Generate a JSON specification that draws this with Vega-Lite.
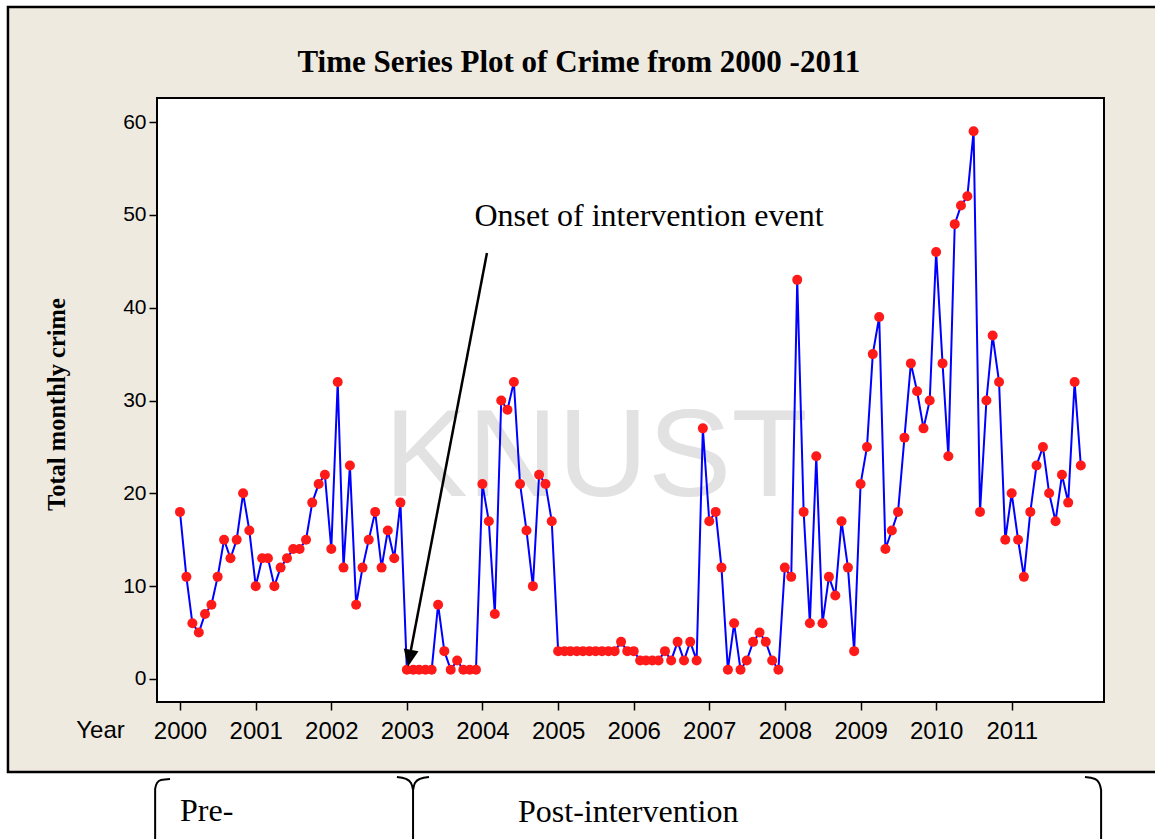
{
  "$schema": "https://vega.github.io/schema/vega-lite/v6.json",
  "width": 947,
  "height": 604,
  "autosize": {"type": "none"},
  "padding": {"left": 157, "top": 98, "right": 51, "bottom": 137},
  "background": "white",
  "config": {"view": {"stroke": null}},
  "datasets": {
    "crime": [
      {"month": "2000-01-01", "crime": 18}, {"month": "2000-02-01", "crime": 11}, {"month": "2000-03-01", "crime": 6}, {"month": "2000-04-01", "crime": 5}, {"month": "2000-05-01", "crime": 7}, {"month": "2000-06-01", "crime": 8}, {"month": "2000-07-01", "crime": 11}, {"month": "2000-08-01", "crime": 15}, {"month": "2000-09-01", "crime": 13}, {"month": "2000-10-01", "crime": 15}, {"month": "2000-11-01", "crime": 20}, {"month": "2000-12-01", "crime": 16},
      {"month": "2001-01-01", "crime": 10}, {"month": "2001-02-01", "crime": 13}, {"month": "2001-03-01", "crime": 13}, {"month": "2001-04-01", "crime": 10}, {"month": "2001-05-01", "crime": 12}, {"month": "2001-06-01", "crime": 13}, {"month": "2001-07-01", "crime": 14}, {"month": "2001-08-01", "crime": 14}, {"month": "2001-09-01", "crime": 15}, {"month": "2001-10-01", "crime": 19}, {"month": "2001-11-01", "crime": 21}, {"month": "2001-12-01", "crime": 22},
      {"month": "2002-01-01", "crime": 14}, {"month": "2002-02-01", "crime": 32}, {"month": "2002-03-01", "crime": 12}, {"month": "2002-04-01", "crime": 23}, {"month": "2002-05-01", "crime": 8}, {"month": "2002-06-01", "crime": 12}, {"month": "2002-07-01", "crime": 15}, {"month": "2002-08-01", "crime": 18}, {"month": "2002-09-01", "crime": 12}, {"month": "2002-10-01", "crime": 16}, {"month": "2002-11-01", "crime": 13}, {"month": "2002-12-01", "crime": 19},
      {"month": "2003-01-01", "crime": 1}, {"month": "2003-02-01", "crime": 1}, {"month": "2003-03-01", "crime": 1}, {"month": "2003-04-01", "crime": 1}, {"month": "2003-05-01", "crime": 1}, {"month": "2003-06-01", "crime": 8}, {"month": "2003-07-01", "crime": 3}, {"month": "2003-08-01", "crime": 1}, {"month": "2003-09-01", "crime": 2}, {"month": "2003-10-01", "crime": 1}, {"month": "2003-11-01", "crime": 1}, {"month": "2003-12-01", "crime": 1},
      {"month": "2004-01-01", "crime": 21}, {"month": "2004-02-01", "crime": 17}, {"month": "2004-03-01", "crime": 7}, {"month": "2004-04-01", "crime": 30}, {"month": "2004-05-01", "crime": 29}, {"month": "2004-06-01", "crime": 32}, {"month": "2004-07-01", "crime": 21}, {"month": "2004-08-01", "crime": 16}, {"month": "2004-09-01", "crime": 10}, {"month": "2004-10-01", "crime": 22}, {"month": "2004-11-01", "crime": 21}, {"month": "2004-12-01", "crime": 17},
      {"month": "2005-01-01", "crime": 3}, {"month": "2005-02-01", "crime": 3}, {"month": "2005-03-01", "crime": 3}, {"month": "2005-04-01", "crime": 3}, {"month": "2005-05-01", "crime": 3}, {"month": "2005-06-01", "crime": 3}, {"month": "2005-07-01", "crime": 3}, {"month": "2005-08-01", "crime": 3}, {"month": "2005-09-01", "crime": 3}, {"month": "2005-10-01", "crime": 3}, {"month": "2005-11-01", "crime": 4}, {"month": "2005-12-01", "crime": 3},
      {"month": "2006-01-01", "crime": 3}, {"month": "2006-02-01", "crime": 2}, {"month": "2006-03-01", "crime": 2}, {"month": "2006-04-01", "crime": 2}, {"month": "2006-05-01", "crime": 2}, {"month": "2006-06-01", "crime": 3}, {"month": "2006-07-01", "crime": 2}, {"month": "2006-08-01", "crime": 4}, {"month": "2006-09-01", "crime": 2}, {"month": "2006-10-01", "crime": 4}, {"month": "2006-11-01", "crime": 2}, {"month": "2006-12-01", "crime": 27},
      {"month": "2007-01-01", "crime": 17}, {"month": "2007-02-01", "crime": 18}, {"month": "2007-03-01", "crime": 12}, {"month": "2007-04-01", "crime": 1}, {"month": "2007-05-01", "crime": 6}, {"month": "2007-06-01", "crime": 1}, {"month": "2007-07-01", "crime": 2}, {"month": "2007-08-01", "crime": 4}, {"month": "2007-09-01", "crime": 5}, {"month": "2007-10-01", "crime": 4}, {"month": "2007-11-01", "crime": 2}, {"month": "2007-12-01", "crime": 1},
      {"month": "2008-01-01", "crime": 12}, {"month": "2008-02-01", "crime": 11}, {"month": "2008-03-01", "crime": 43}, {"month": "2008-04-01", "crime": 18}, {"month": "2008-05-01", "crime": 6}, {"month": "2008-06-01", "crime": 24}, {"month": "2008-07-01", "crime": 6}, {"month": "2008-08-01", "crime": 11}, {"month": "2008-09-01", "crime": 9}, {"month": "2008-10-01", "crime": 17}, {"month": "2008-11-01", "crime": 12}, {"month": "2008-12-01", "crime": 3},
      {"month": "2009-01-01", "crime": 21}, {"month": "2009-02-01", "crime": 25}, {"month": "2009-03-01", "crime": 35}, {"month": "2009-04-01", "crime": 39}, {"month": "2009-05-01", "crime": 14}, {"month": "2009-06-01", "crime": 16}, {"month": "2009-07-01", "crime": 18}, {"month": "2009-08-01", "crime": 26}, {"month": "2009-09-01", "crime": 34}, {"month": "2009-10-01", "crime": 31}, {"month": "2009-11-01", "crime": 27}, {"month": "2009-12-01", "crime": 30},
      {"month": "2010-01-01", "crime": 46}, {"month": "2010-02-01", "crime": 34}, {"month": "2010-03-01", "crime": 24}, {"month": "2010-04-01", "crime": 49}, {"month": "2010-05-01", "crime": 51}, {"month": "2010-06-01", "crime": 52}, {"month": "2010-07-01", "crime": 59}, {"month": "2010-08-01", "crime": 18}, {"month": "2010-09-01", "crime": 30}, {"month": "2010-10-01", "crime": 37}, {"month": "2010-11-01", "crime": 32}, {"month": "2010-12-01", "crime": 15},
      {"month": "2011-01-01", "crime": 20}, {"month": "2011-02-01", "crime": 15}, {"month": "2011-03-01", "crime": 11}, {"month": "2011-04-01", "crime": 18}, {"month": "2011-05-01", "crime": 23}, {"month": "2011-06-01", "crime": 25}, {"month": "2011-07-01", "crime": 20}, {"month": "2011-08-01", "crime": 17}, {"month": "2011-09-01", "crime": 22}, {"month": "2011-10-01", "crime": 19}, {"month": "2011-11-01", "crime": 32}, {"month": "2011-12-01", "crime": 23}
    ],
    "braces": [
      {"brace": "left", "o": 1, "t": "1999-11-14", "v": -10.77},
      {"brace": "left", "o": 2, "t": "1999-10-01", "v": -10.88},
      {"brace": "left", "o": 3, "t": "1999-09-12", "v": -11.2},
      {"brace": "left", "o": 4, "t": "1999-09-03", "v": -11.85},
      {"brace": "left", "o": 5, "t": "1999-09-03", "v": -18},
      {"brace": "midL", "o": 1, "t": "2002-11-14", "v": -10.56},
      {"brace": "midL", "o": 2, "t": "2002-12-28", "v": -10.77},
      {"brace": "midL", "o": 3, "t": "2003-01-21", "v": -11.2},
      {"brace": "midL", "o": 4, "t": "2003-01-31", "v": -11.96},
      {"brace": "midL", "o": 5, "t": "2003-01-31", "v": -18},
      {"brace": "midR", "o": 1, "t": "2003-04-18", "v": -10.56},
      {"brace": "midR", "o": 2, "t": "2003-03-05", "v": -10.77},
      {"brace": "midR", "o": 3, "t": "2003-02-09", "v": -11.2},
      {"brace": "midR", "o": 4, "t": "2003-01-31", "v": -11.96},
      {"brace": "right", "o": 1, "t": "2011-12-21", "v": -10.56},
      {"brace": "right", "o": 2, "t": "2012-02-08", "v": -10.77},
      {"brace": "right", "o": 3, "t": "2012-02-27", "v": -11.2},
      {"brace": "right", "o": 4, "t": "2012-03-08", "v": -11.96},
      {"brace": "right", "o": 5, "t": "2012-03-08", "v": -18}
    ]
  },
  "layer": [
    {
      "data": {"values": [{"t": "1997-09-22", "t2": "2013-06-01", "v": 72.39, "v2": -10.02}]},
      "mark": {"type": "rect", "fill": "#EEEAE0", "stroke": "black", "strokeWidth": 2.5},
      "encoding": {
        "x": {"field": "t", "type": "temporal"},
        "x2": {"field": "t2"},
        "y": {"field": "v", "type": "quantitative"},
        "y2": {"field": "v2"}
      }
    },
    {
      "data": {"values": [{"t": "1999-09-12", "t2": "2012-03-22", "v": -2.48, "v2": 62.59}]},
      "mark": {"type": "rect", "fill": "white", "stroke": "black", "strokeWidth": 2},
      "encoding": {
        "x": {"field": "t", "type": "temporal"},
        "x2": {"field": "t2"},
        "y": {"field": "v", "type": "quantitative"},
        "y2": {"field": "v2"}
      }
    },
    {
      "data": {"values": [{"t": "2005-07-03", "v": 23.8, "label": "KNUST"}]},
      "mark": {"type": "text", "font": "Liberation Sans", "fontSize": 125, "color": "#E2E2E2", "align": "center", "baseline": "middle"},
      "encoding": {
        "x": {"field": "t", "type": "temporal"},
        "y": {"field": "v", "type": "quantitative"},
        "text": {"field": "label"}
      }
    },
    {
      "data": {"name": "crime"},
      "mark": {"type": "line", "color": "#0000FF", "strokeWidth": 2},
      "encoding": {
        "x": {
          "field": "month", "type": "temporal",
          "scale": {"type": "utc", "domain": [{"year": 1999, "month": 9, "date": 12, "utc": true}, {"year": 2012, "month": 3, "date": 22, "utc": true}]},
          "axis": {
            "values": [
              {"year": 2000, "utc": true}, {"year": 2001, "utc": true}, {"year": 2002, "utc": true}, {"year": 2003, "utc": true},
              {"year": 2004, "utc": true}, {"year": 2005, "utc": true}, {"year": 2006, "utc": true}, {"year": 2007, "utc": true},
              {"year": 2008, "utc": true}, {"year": 2009, "utc": true}, {"year": 2010, "utc": true}, {"year": 2011, "utc": true}
            ],
            "format": "%Y",
            "formatType": "utc",
            "zindex": 1,
            "domain": false, "grid": false,
            "ticks": true, "tickSize": 8, "tickColor": "black", "tickWidth": 1.5,
            "labelFont": "Liberation Sans", "labelFontSize": 24, "labelColor": "black", "labelPadding": 9,
            "labelOverlap": false, "labelFlush": false,
            "title": "Year", "titleFont": "Liberation Sans", "titleFontSize": 24, "titleFontWeight": "normal", "titleColor": "black",
            "titleX": -57, "titleY": 28, "titleAlign": "center", "titleBaseline": "middle"
          }
        },
        "y": {
          "field": "crime", "type": "quantitative",
          "scale": {"domain": [-2.48, 62.59], "nice": false, "zero": false},
          "axis": {
            "values": [0, 10, 20, 30, 40, 50, 60],
            "zindex": 1,
            "domain": false, "grid": false,
            "tickSize": 8, "tickColor": "black", "tickWidth": 1.5,
            "labelFont": "Liberation Sans", "labelFontSize": 21, "labelColor": "black", "labelPadding": 3,
            "title": "Total monthly crime", "titleFont": "Liberation Serif", "titleFontSize": 24.5, "titleFontWeight": "bold", "titleColor": "black",
            "titleX": -100, "titleY": 306, "titleAngle": -90, "titleAlign": "center", "titleBaseline": "middle"
          }
        }
      }
    },
    {
      "data": {"name": "crime"},
      "mark": {"type": "point", "shape": "circle", "filled": true, "color": "#FF1A1A", "size": 100, "opacity": 1},
      "encoding": {
        "x": {"field": "month", "type": "temporal"},
        "y": {"field": "crime", "type": "quantitative"}
      }
    },
    {
      "data": {"values": [{"t": "2004-01-23", "v": 45.89, "t2": "2003-01-16", "v2": 2.59}]},
      "mark": {"type": "rule", "color": "black", "strokeWidth": 2.5},
      "encoding": {
        "x": {"field": "t", "type": "temporal"},
        "x2": {"field": "t2"},
        "y": {"field": "v", "type": "quantitative"},
        "y2": {"field": "v2"}
      }
    },
    {
      "data": {"values": [{"t": "2003-01-14", "v": 2.23}]},
      "mark": {"type": "point", "shape": "M-0.88,-1L0.88,-1L0,1Z", "filled": true, "color": "black", "size": 289, "angle": 10.8, "opacity": 1},
      "encoding": {
        "x": {"field": "t", "type": "temporal"},
        "y": {"field": "v", "type": "quantitative"}
      }
    },
    {
      "data": {"values": [{"t": "2006-03-16", "v": 49.87, "label": "Onset of intervention event"}]},
      "mark": {"type": "text", "font": "Liberation Serif", "fontSize": 32, "color": "black", "align": "center", "baseline": "middle"},
      "encoding": {
        "x": {"field": "t", "type": "temporal"},
        "y": {"field": "v", "type": "quantitative"},
        "text": {"field": "label"}
      }
    },
    {
      "data": {"values": [{"t": "2005-04-11", "v": 66.36, "label": "Time Series Plot of Crime from 2000 -2011"}]},
      "mark": {"type": "text", "font": "Liberation Serif", "fontSize": 31, "fontWeight": "bold", "color": "black", "align": "center", "baseline": "middle"},
      "encoding": {
        "x": {"field": "t", "type": "temporal"},
        "y": {"field": "v", "type": "quantitative"},
        "text": {"field": "label"}
      }
    },
    {
      "data": {"name": "braces"},
      "mark": {"type": "line", "color": "black", "strokeWidth": 2, "interpolate": "monotone"},
      "encoding": {
        "x": {"field": "t", "type": "temporal"},
        "y": {"field": "v", "type": "quantitative"},
        "detail": {"field": "brace"},
        "order": {"field": "o"}
      }
    },
    {
      "data": {"values": [
        {"t": "2000-01-01", "v": -14.22, "label": "Pre-"},
        {"t": "2004-06-21", "v": -14.33, "label": "Post-intervention"}
      ]},
      "mark": {"type": "text", "font": "Liberation Serif", "fontSize": 32, "color": "black", "align": "left", "baseline": "middle"},
      "encoding": {
        "x": {"field": "t", "type": "temporal"},
        "y": {"field": "v", "type": "quantitative"},
        "text": {"field": "label"}
      }
    }
  ]
}
